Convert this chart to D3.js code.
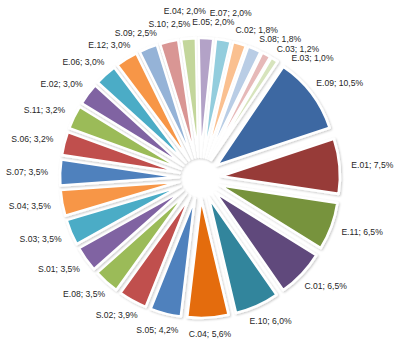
<!DOCTYPE html>
<html>
<head>
<meta charset="utf-8">
<script src="https://d3js.org/d3.v7.min.js"></script>
<style>
  body { margin: 0; background: #fff; }
  text { font-family: 'Liberation Sans', Arial, sans-serif; font-size: 8.6px; fill: #262626; }
</style>
</head>
<body>
<div id="main"></div>
<script>
// dataset
const categories = ['E.09', 'E.01', 'E.11', 'C.01', 'E.10', 'C.04', 'S.05', 'S.02', 'E.08',
  'S.01', 'S.03', 'S.04', 'S.07', 'S.06', 'S.11', 'E.02', 'E.06', 'E.12', 'S.09', 'S.10',
  'E.04', 'E.05', 'E.07', 'C.02', 'S.08', 'C.03', 'E.03'];
const values = [10.5, 7.5, 6.5, 6.5, 6.0, 5.6, 4.2, 3.9, 3.5,
  3.5, 3.5, 3.5, 3.5, 3.2, 3.2, 3.0, 3.0, 3.0, 2.5, 2.5,
  2.0, 2.0, 2.0, 1.8, 1.8, 1.2, 1.0];
// dataset

const colors = ['#3c68a2', '#973a38', '#77933c', '#604a7b', '#31859c', '#e46c0a',
  '#4f81bd', '#c0504d', '#9bbb59', '#8064a2', '#4bacc6', '#f79646',
  '#4f81bd', '#c0504d', '#9bbb59', '#8064a2', '#4bacc6', '#f79646',
  '#95b3d7', '#d99694', '#c3d69b', '#b3a2c7', '#93cddd', '#fac090',
  '#b9cde5', '#e6b9b8', '#d7e4bd'];

const width = 400;
const height = 352;
const cx = 200, cy = 178;
const radius = 119;
const explode = 21;
const labelRadius = 152;
const rot = 34 * Math.PI / 180;

const data = categories.map((c, i) => ({ name: c, value: values[i], color: colors[i] }));

const svg = d3.select('#main').append('svg')
  .attr('width', width)
  .attr('height', height);

svg.append('defs').append('filter')
  .attr('id', 'shadow')
  .attr('x', '-20%').attr('y', '-20%').attr('width', '140%').attr('height', '140%')
  .append('feDropShadow')
  .attr('dx', 1).attr('dy', 1).attr('stdDeviation', 1)
  .attr('flood-color', '#000').attr('flood-opacity', 0.22);

const pie = d3.pie()
  .sort(null)
  .value(d => d.value)
  .startAngle(rot)
  .endAngle(rot + 2 * Math.PI);

const arc = d3.arc()
  .innerRadius(0)
  .outerRadius(radius);

const arcs = pie(data);

const chart = svg.append('g')
  .attr('transform', `translate(${cx},${cy})`);

chart.selectAll('path')
  .data(arcs)
  .enter()
  .append('path')
  .attr('d', arc)
  .attr('fill', d => d.data.color)
  .attr('stroke', '#fff')
  .attr('stroke-width', 2.6)
  .attr('stroke-linejoin', 'round')
  .attr('filter', 'url(#shadow)')
  .attr('transform', d => {
    const a = (d.startAngle + d.endAngle) / 2;
    return `translate(${explode * Math.sin(a)},${-explode * Math.cos(a)})`;
  });

// labels: start near the slice, then nudge out of the way of earlier ones
const fmt = v => v.toFixed(1).replace('.', ',') + '%';
const labels = chart.selectAll('text.lbl')
  .data(arcs)
  .enter()
  .append('text')
  .attr('class', 'lbl')
  .attr('text-anchor', 'middle')
  .attr('dominant-baseline', 'central')
  .text(d => `${d.data.name}; ${fmt(d.data.value)}`);

const placed = [];
const h = 9;
labels.each(function (d) {
  const w = this.getComputedTextLength();
  const a = (d.startAngle + d.endAngle) / 2;
  const s = Math.sin(a), c = Math.cos(a);
  let best = null;
  for (const dr of [0, 11, 22, 33]) {
    for (let dt = 0; dt <= 60; dt += 2) {
      const cost = dt + 1.5 * dr;
      if (best && cost >= best.cost) continue;
      const r = labelRadius + dr;
      const x = r * s + (w / 2) * s + dt * c;
      const y = -r * c - (h / 2) * c + dt * s;
      const box = { x0: x - w / 2, x1: x + w / 2, y0: y - h / 2, y1: y + h / 2 };
      const hit = placed.some(b => box.x0 < b.x1 + 1 && box.x1 > b.x0 - 1 && box.y0 < b.y1 && box.y1 > b.y0);
      if (!hit) best = { cost, x, y, box };
    }
  }
  placed.push(best.box);
  d3.select(this).attr('x', best.x).attr('y', best.y);
});
</script>
</body>
</html>
